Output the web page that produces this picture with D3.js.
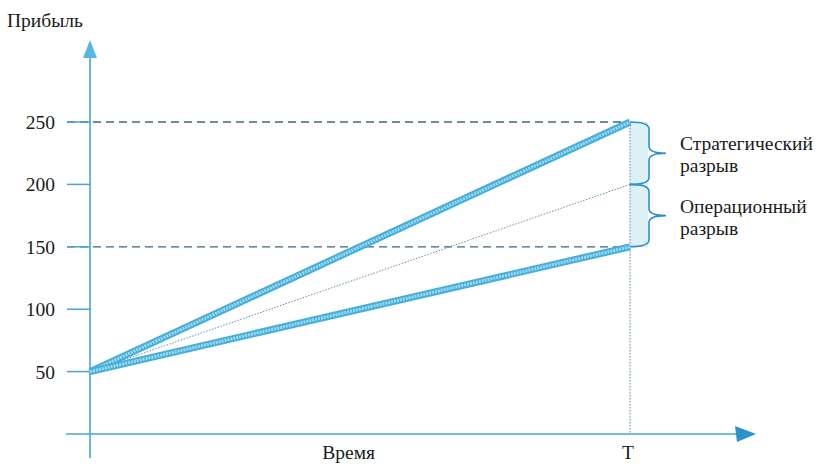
<!DOCTYPE html>
<html><head><meta charset="utf-8">
<script src="https://cdn.jsdelivr.net/npm/d3@7"></script>
<style>body{margin:0;background:#fff}svg{display:block}</style>
</head><body><svg id="c" width="819" height="464"></svg>
<script>
// ---- data ----
const yTicks = [50, 100, 150, 200, 250];
const startProfit = 50;
const scenarios = [
  {name: "strategic", value: 250, style: "thick"},
  {name: "middle", value: 200, style: "dotted"},
  {name: "operational", value: 150, style: "thick"}
];
const dashedLevels = [250, 150];
const gaps = [
  {from: 250, to: 200, label: ["Стратегический", "разрыв"]},
  {from: 200, to: 150, label: ["Операционный", "разрыв"]}
];
const xLabels = [{t: 0.479, text: "Время"}, {t: 0.996, text: "T"}];
const yTitle = "Прибыль";

// ---- layout ----
const FONT = "Liberation Serif";
const svg = d3.select("#c");
const x = d3.scaleLinear().domain([0, 1]).range([90, 630]);
const y = d3.scaleLinear().domain([0, 250]).range([434, 122]);
const axisCol = "#4aa6cc", arrowCol = "#2b92cc", dashCol = "#3d6680";
const txt = (sel) => sel.attr("font-family", FONT).attr("fill", "#1a1a1a");

// gap shading
svg.append("rect").attr("x", x(1)).attr("y", y(250)).attr("width", 18).attr("height", y(150) - y(250))
  .attr("fill", "#dcf0f8");

// dashed horizontal levels
svg.selectAll("line.lvl").data(dashedLevels).join("line")
  .attr("x1", 67).attr("x2", x(1)).attr("y1", d => y(d)).attr("y2", d => y(d))
  .attr("stroke", dashCol).attr("stroke-width", 1.3).attr("stroke-dasharray", "8,5");

// vertical dotted at T
svg.append("line").attr("x1", x(1)).attr("x2", x(1)).attr("y1", y(250)).attr("y2", y(0))
  .attr("stroke", "#5a8aa6").attr("stroke-width", 1).attr("stroke-dasharray", "1.5,1.5");

// y tick marks and labels
svg.selectAll("line.tk").data(yTicks).join("line")
  .attr("x1", 67).attr("x2", x(0)).attr("y1", d => y(d)).attr("y2", d => y(d))
  .attr("stroke", axisCol).attr("stroke-width", 1.5);
svg.selectAll("text.tl").data(yTicks).join("text")
  .attr("x", 55).attr("y", d => y(d) + 7).attr("text-anchor", "end").attr("font-size", 19.5)
  .call(txt).text(d => d);

// axes
svg.append("line").attr("x1", x(0)).attr("x2", x(0)).attr("y1", 458).attr("y2", 52)
  .attr("stroke", axisCol).attr("stroke-width", 1.6);
svg.append("path").attr("d", `M${x(0)},40 L${x(0) - 7},58 L${x(0) + 7},58 Z`).attr("fill", "#55b8e4");
svg.append("line").attr("x1", 66).attr("x2", 742).attr("y1", y(0)).attr("y2", y(0))
  .attr("stroke", axisCol).attr("stroke-width", 1.6);
svg.append("path").attr("d", `M756,${y(0)} L735,${y(0) - 8} L737,${y(0) + 8} Z`).attr("fill", arrowCol);

// scenario lines
scenarios.forEach(s => {
  const pts = [[x(0), y(startProfit)], [x(1), y(s.value)]];
  const line = d3.line();
  if (s.style === "thick") {
    svg.append("path").attr("d", line(pts)).attr("stroke", "#45aedb").attr("stroke-width", 7).attr("fill", "none");
    svg.append("path").attr("d", line(pts)).attr("stroke", "#9fd9ef").attr("stroke-width", 3)
      .attr("stroke-dasharray", "2,1").attr("fill", "none");
  } else {
    svg.append("path").attr("d", line(pts)).attr("stroke", "#5f8fae").attr("stroke-width", 1)
      .attr("stroke-dasharray", "1.5,1.5").attr("fill", "none");
  }
});

// braces
function brace(x0, y1, y2) {
  const ym = (y1 + y2) / 2, xv = x0 + 19, tip = x0 + 36, r = 7;
  return `M${x0},${y1} Q${xv},${y1} ${xv},${y1 + r} L${xv},${ym - r} Q${xv},${ym} ${tip},${ym}` +
         ` Q${xv},${ym} ${xv},${ym + r} L${xv},${y2 - r} Q${xv},${y2} ${x0},${y2}`;
}
gaps.forEach(g => {
  svg.append("path").attr("d", brace(x(1), y(g.from), y(g.to))).attr("fill", "none")
    .attr("stroke", "#2f8fc4").attr("stroke-width", 1.6);
  const ym = (y(g.from) + y(g.to)) / 2;
  svg.append("text").attr("x", 680).attr("y", ym - 3).attr("font-size", 19.5).call(txt).text(g.label[0]);
  svg.append("text").attr("x", 680).attr("y", ym + 19).attr("font-size", 19.5).call(txt).text(g.label[1]);
});

// labels
svg.append("text").attr("x", 7).attr("y", 27).attr("font-size", 19.5).call(txt).text(yTitle);
svg.selectAll("text.xl").data(xLabels).join("text")
  .attr("x", d => x(d.t)).attr("y", 459).attr("text-anchor", "middle").attr("font-size", 19.5)
  .call(txt).text(d => d.text);
</script></body></html>
